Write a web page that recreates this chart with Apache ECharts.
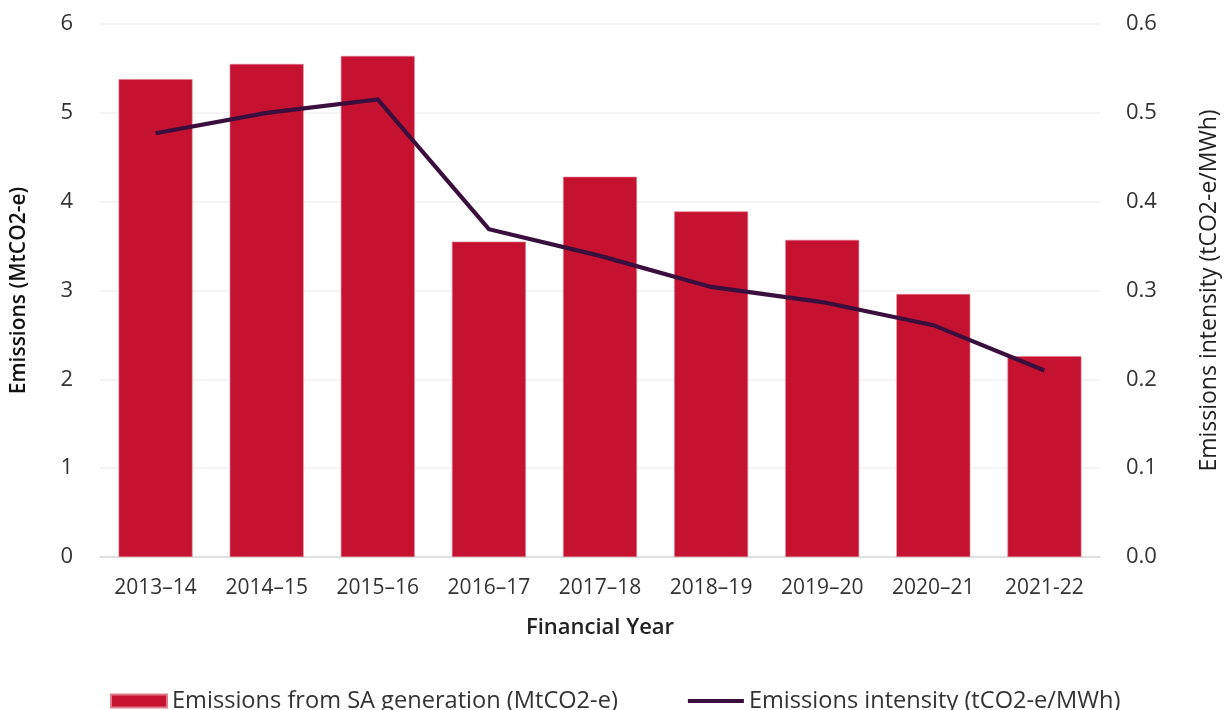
<!DOCTYPE html>
<html>
<head>
<meta charset="utf-8">
<script src="https://cdn.jsdelivr.net/npm/echarts@6/dist/echarts.min.js"></script>
<style>
  html, body { margin: 0; padding: 0; background: #fff; }
  #chart { width: 1229px; height: 710px; }
</style>
</head>
<body>
<div id="chart"></div>
<script>
// Financial years shown on the category axis
const years = ['2013–14', '2014–15', '2015–16', '2016–17', '2017–18', '2018–19', '2019–20', '2020–21', '2021-22'];

// Emissions from SA generation, MtCO2-e (bars, left axis)
const emissions = [5.38, 5.55, 5.64, 3.55, 4.28, 3.89, 3.57, 2.96, 2.26];

// Emissions intensity, tCO2-e/MWh (line, right axis)
const intensity = [0.477, 0.500, 0.515, 0.369, 0.339, 0.304, 0.287, 0.261, 0.210];

// Axis tick settings
const leftTicks = { min: 0, max: 6, interval: 1 };
const rightTicks = { min: 0, max: 0.6, interval: 0.1 };

const seriesNames = ['Emissions from SA generation (MtCO2-e)', 'Emissions intensity (tCO2-e/MWh)'];

const FONT = '"Open Sans", "Noto Sans", sans-serif';
const RED = '#C41230';
const PURPLE = '#3A0F3E';

const chart = echarts.init(document.getElementById('chart'), null, { renderer: 'canvas' });

chart.setOption({
  animation: false,
  backgroundColor: '#ffffff',
  textStyle: { fontFamily: FONT },
  grid: { left: 100, right: 127, top: 24, bottom: 153, containLabel: false },
  legend: {
    top: 684,
    left: 105,
    itemGap: 70,
    itemWidth: 56,
    itemHeight: 13,
    textStyle: { fontFamily: FONT, fontSize: 23.6, color: '#333333' },
    data: [
      { name: seriesNames[0], icon: 'rect', itemStyle: { color: RED } },
      { name: seriesNames[1], icon: 'path://M0,0 H56 V4 H0 Z', itemStyle: { color: PURPLE } }
    ]
  },
  xAxis: {
    type: 'category',
    data: years,
    name: 'Financial Year',
    nameLocation: 'middle',
    nameGap: 60,
    nameTextStyle: { fontFamily: FONT, fontSize: 22, fontWeight: 600, color: '#222222' },
    axisLine: { show: true, lineStyle: { color: '#D9D9D9', width: 1.5 } },
    axisTick: { show: false },
    axisLabel: { fontFamily: FONT, fontSize: 21, color: '#333333', margin: 21, interval: 0 }
  },
  yAxis: [
    {
      type: 'value',
      min: leftTicks.min, max: leftTicks.max, interval: leftTicks.interval,
      name: 'Emissions (MtCO2-e)',
      nameLocation: 'middle',
      nameGap: 70,
      nameRotate: 90,
      nameTextStyle: { fontFamily: FONT, fontSize: 21, fontWeight: 600, color: '#111111' },
      axisLine: { show: false },
      axisTick: { show: false },
      axisLabel: { fontFamily: FONT, fontSize: 22, color: '#333333', margin: 27 },
      splitLine: { show: true, lineStyle: { color: '#F0F0F0', width: 1.5 } }
    },
    {
      type: 'value',
      position: 'right',
      min: rightTicks.min, max: rightTicks.max, interval: rightTicks.interval,
      name: 'Emissions intensity (tCO2-e/MWh)',
      nameLocation: 'middle',
      nameGap: 98,
      nameRotate: 90,
      nameTextStyle: { fontFamily: FONT, fontSize: 23, color: '#222222' },
      axisLine: { show: false },
      axisTick: { show: false },
      axisLabel: {
        fontFamily: FONT, fontSize: 22, color: '#333333', margin: 26,
        formatter: v => v.toFixed(1)
      },
      splitLine: { show: false }
    }
  ],
  series: [
    {
      name: seriesNames[0],
      type: 'bar',
      yAxisIndex: 0,
      data: emissions,
      barCategoryGap: '33.5%',
      itemStyle: { color: RED, borderColor: '#E07A8C', borderWidth: 0.6 }
    },
    {
      name: seriesNames[1],
      type: 'line',
      yAxisIndex: 1,
      data: intensity,
      symbol: 'none',
      lineStyle: { color: PURPLE, width: 4.2, join: 'miter' },
      itemStyle: { color: PURPLE },
      z: 5
    }
  ]
});
</script>
</body>
</html>
